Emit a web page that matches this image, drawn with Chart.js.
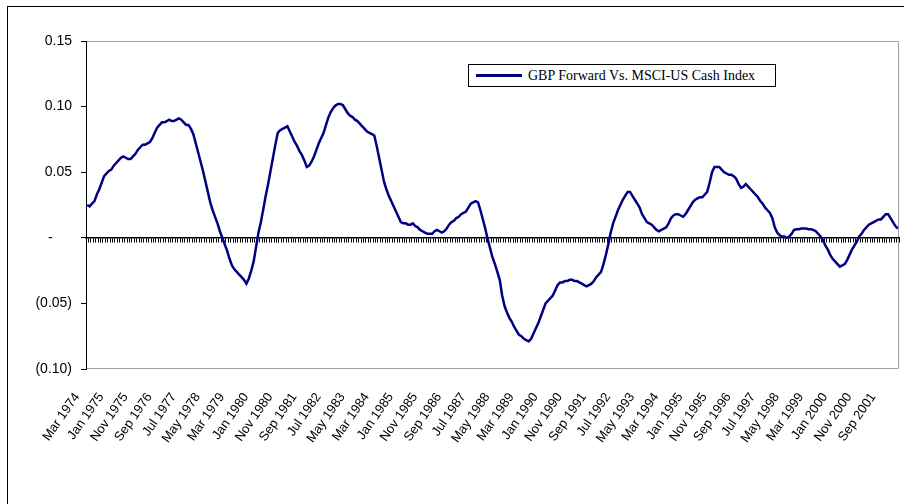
<!DOCTYPE html>
<html>
<head>
<meta charset="utf-8">
<title>GBP Forward Vs. MSCI-US Cash Index</title>
<script src="https://cdn.jsdelivr.net/npm/chart.js@4.4.0/dist/chart.umd.min.js"></script>
<style>
  html, body { margin: 0; padding: 0; background: #fff; overflow: hidden; }
  #frame { position: absolute; left: 7px; top: 6px; width: 1000px; height: 600px; border: 1px solid #000; }
  #wrap { position: absolute; left: 0; top: 0; width: 904px; height: 504px; }
  #legend {
    position: absolute; left: 468px; top: 64px; width: 308px; height: 23px;
    border: 1px solid #000; background: #fff; box-sizing: border-box;
    font: 14px "Liberation Serif", "Times New Roman", serif; color: #000;
    display: flex; align-items: center; white-space: nowrap;
  }
  #legend .swatch { width: 46px; height: 0; border-top: 3px solid #000080; margin: 0 6px 0 7px; }
</style>
</head>
<body>
<div id="frame"></div>
<div id="wrap"><canvas id="chart" width="904" height="504"></canvas></div>
<div id="legend"></div>
<script>
// monthly series, Mar 1974 onwards
const seriesName = 'GBP Forward Vs. MSCI-US Cash Index';
const monthNames = ['Jan', 'Feb', 'Mar', 'Apr', 'May', 'Jun', 'Jul', 'Aug', 'Sep', 'Oct', 'Nov', 'Dec'];
const firstYear = 1974;
const firstMonth = 2; // Mar
const labelEvery = 10;
const yTickLabels = ['(0.10)', '(0.05)', '-', '0.05', '0.10', '0.15'];

const values = [
  0.025, 0.024, 0.026, 0.028, 0.033, 0.037, 0.042, 0.047, 0.049, 0.051,
  0.052, 0.055, 0.057, 0.059, 0.061, 0.062, 0.061, 0.060, 0.060, 0.062,
  0.064, 0.067, 0.069, 0.071, 0.071, 0.072, 0.073, 0.076, 0.080, 0.084,
  0.086, 0.088, 0.088, 0.089, 0.090, 0.089, 0.089, 0.090, 0.091, 0.090,
  0.088, 0.086, 0.086, 0.083, 0.079, 0.072, 0.065, 0.058, 0.051, 0.043,
  0.035, 0.027, 0.021, 0.016, 0.011, 0.005, 0.000, -0.005, -0.010, -0.016,
  -0.021, -0.024, -0.026, -0.028, -0.030, -0.032, -0.035, -0.031, -0.025, -0.018,
  -0.007, 0.004, 0.012, 0.022, 0.032, 0.041, 0.051, 0.061, 0.071, 0.080,
  0.082, 0.083, 0.084, 0.085, 0.081, 0.077, 0.073, 0.070, 0.066, 0.063,
  0.059, 0.054, 0.055, 0.058, 0.062, 0.067, 0.072, 0.076, 0.080, 0.086,
  0.092, 0.096, 0.099, 0.101, 0.102, 0.102, 0.101, 0.098, 0.095, 0.093,
  0.092, 0.090, 0.089, 0.087, 0.085, 0.083, 0.081, 0.080, 0.079, 0.078,
  0.070, 0.061, 0.052, 0.043, 0.037, 0.032, 0.028, 0.024, 0.020, 0.016,
  0.012, 0.011, 0.011, 0.010, 0.010, 0.011, 0.009, 0.008, 0.006, 0.005,
  0.004, 0.003, 0.003, 0.003, 0.005, 0.006, 0.005, 0.004, 0.005, 0.007,
  0.010, 0.012, 0.013, 0.015, 0.016, 0.018, 0.019, 0.020, 0.023, 0.026,
  0.027, 0.028, 0.027, 0.021, 0.014, 0.007, -0.001, -0.008, -0.015, -0.020,
  -0.026, -0.032, -0.044, -0.052, -0.057, -0.061, -0.064, -0.068, -0.071, -0.074,
  -0.075, -0.077, -0.078, -0.079, -0.077, -0.073, -0.069, -0.065, -0.060, -0.055,
  -0.050, -0.048, -0.046, -0.044, -0.040, -0.036, -0.034, -0.034, -0.033, -0.033,
  -0.032, -0.032, -0.033, -0.033, -0.034, -0.035, -0.036, -0.037, -0.036, -0.035,
  -0.033, -0.030, -0.028, -0.026, -0.020, -0.013, -0.005, 0.004, 0.011, 0.016,
  0.021, 0.025, 0.029, 0.032, 0.035, 0.035, 0.032, 0.029, 0.026, 0.023,
  0.018, 0.015, 0.012, 0.011, 0.010, 0.008, 0.006, 0.005, 0.006, 0.007,
  0.008, 0.011, 0.015, 0.017, 0.018, 0.018, 0.017, 0.016, 0.018, 0.021,
  0.024, 0.027, 0.029, 0.030, 0.031, 0.031, 0.033, 0.035, 0.042, 0.050,
  0.054, 0.054, 0.054, 0.052, 0.050, 0.049, 0.048, 0.048, 0.047, 0.045,
  0.041, 0.038, 0.039, 0.041, 0.039, 0.037, 0.035, 0.033, 0.031, 0.028,
  0.026, 0.023, 0.021, 0.019, 0.015, 0.008, 0.004, 0.002, 0.001, 0.001,
  0.000, 0.001, 0.003, 0.006, 0.0065, 0.0065, 0.007, 0.007, 0.007, 0.0065,
  0.0065, 0.006, 0.005, 0.003, 0.001, -0.002, -0.006, -0.009, -0.013, -0.016,
  -0.018, -0.020, -0.022, -0.021, -0.020, -0.017, -0.013, -0.009, -0.006, -0.003,
  0.001, 0.003, 0.006, 0.008, 0.010, 0.011, 0.012, 0.013, 0.014, 0.014,
  0.016, 0.018, 0.018, 0.015, 0.012, 0.009, 0.007
];

const categories = values.map((_, i) => {
  const m = firstMonth + i;
  return monthNames[m % 12] + ' ' + (firstYear + Math.floor(m / 12));
});

// legend box sits inside the plot, like the original
const legend = document.getElementById('legend');
legend.innerHTML = '<span class="swatch"></span><span>' + seriesName + '</span>';

// light grey frame round the plot (left side is the y axis)
const plotFrame = {
  id: 'plotFrame',
  beforeDraw(chart) {
    const { ctx, chartArea: a } = chart;
    ctx.save();
    ctx.strokeStyle = '#a0a0a0';
    ctx.lineWidth = 1;
    ctx.beginPath();
    ctx.moveTo(a.left, a.top + 0.5);
    ctx.lineTo(a.right - 0.5, a.top + 0.5);
    ctx.lineTo(a.right - 0.5, a.bottom - 0.5);
    ctx.lineTo(a.left, a.bottom - 0.5);
    ctx.stroke();
    ctx.restore();
  }
};

const ctx = document.getElementById('chart').getContext('2d');
new Chart(ctx, {
  type: 'line',
  data: {
    labels: categories,
    datasets: [{
      label: seriesName,
      data: values,
      borderColor: '#000080',
      borderWidth: 2.5,
      pointRadius: 0,
      tension: 0,
      fill: false,
    }],
  },
  options: {
    responsive: false,
    animation: false,
    layout: { padding: { top: 41, right: 5, bottom: 0, left: 0 } },
    plugins: {
      legend: { display: false },
      tooltip: { enabled: false },
    },
    scales: {
      x: {
        type: 'category',
        position: 'bottom',
        offset: true,
        grid: { display: false },
        border: { display: false },
        ticks: {
          autoSkip: false,
          minRotation: 55,
          maxRotation: 55,
          padding: 13,
          labelOffset: -10,
          color: '#000',
          font: { family: '"Liberation Sans", Arial, sans-serif', size: 13 },
          callback: (v, i) => (i % labelEvery === 0 ? categories[i] : ''),
        },
        // fixed axis height, no extra side padding for the slanted labels
        afterFit: s => { s.height = 135; s.paddingLeft = 0; s.paddingRight = 0; },
      },
      xZero: {
        type: 'category',
        axis: 'x',
        position: { y: 0 },
        offset: true,
        grid: {
          display: true,
          drawOnChartArea: false,
          drawTicks: true,
          tickLength: 4,
          offset: true,
          color: '#000',
          lineWidth: 1,
        },
        border: { display: true, color: '#000', width: 1.5 },
        ticks: { display: false, autoSkip: false },
      },
      y: {
        min: -0.1,
        max: 0.15,
        ticks: {
          stepSize: 0.05,
          padding: 9,
          color: '#000',
          font: { family: '"Liberation Sans", Arial, sans-serif', size: 14 },
          callback: (v, i) => (yTickLabels[i] === '-' ? '-\u2007\u2007 ' : yTickLabels[i]),
        },
        grid: {
          drawOnChartArea: false,
          drawTicks: true,
          tickLength: 5,
          color: '#000',
        },
        border: { display: true, color: '#000', width: 1 },
        afterFit: s => { s.width = 86; },
      },
    },
  },
  plugins: [plotFrame],
});
</script>
</body>
</html>
